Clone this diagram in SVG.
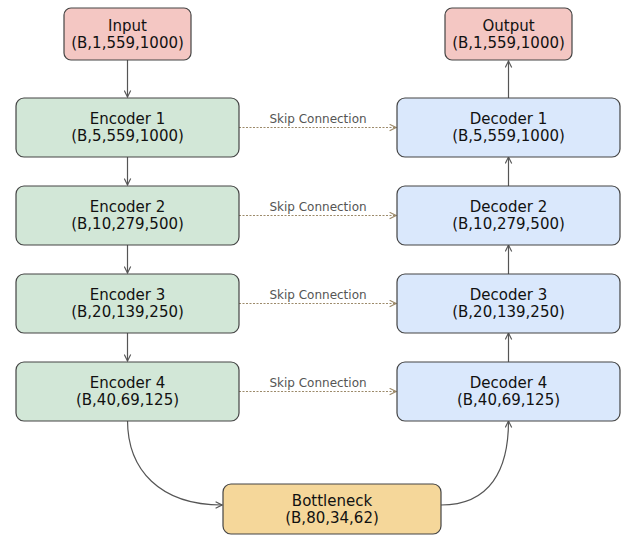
<svg xmlns="http://www.w3.org/2000/svg" width="627" height="535" viewBox="0 0 627 535">
  <defs>
    <marker id="arrow" viewBox="0 0 10 10" refX="9" refY="5" markerWidth="8" markerHeight="8" markerUnits="userSpaceOnUse" orient="auto">
      <path d="M1,1 L9,5 L1,9" fill="none" stroke="#555" stroke-width="1.4"/>
    </marker>
    <marker id="arrow-skip" viewBox="0 0 10 10" refX="9" refY="5" markerWidth="8" markerHeight="8" markerUnits="userSpaceOnUse" orient="auto">
      <path d="M1,1 L9,5 L1,9" fill="none" stroke="#9c8a6a" stroke-width="1.4"/>
    </marker>
    <style>
      .box { stroke: #444; stroke-width: 1.2; }
      .io { fill: #f4c7c3; }
      .enc { fill: #d2e7d7; }
      .dec { fill: #dae8fc; }
      .neck { fill: #f5d79a; }
      .label { font-family: "DejaVu Sans", sans-serif; font-size: 15px; fill: #111; text-anchor: middle; }
      .skip-label { font-family: "DejaVu Sans", sans-serif; font-size: 12px; fill: #555; text-anchor: middle; }
      .flow { fill: none; stroke: #555; stroke-width: 1.2; marker-end: url(#arrow); }
      .skip { fill: none; stroke: #9c8a6a; stroke-width: 1.2; stroke-dasharray: 2 1.5; marker-end: url(#arrow-skip); }
    </style>
  </defs>

  <!-- connectors -->
  <g id="connectors">
    <path class="flow" d="M127.5,60 L127.5,97"/>
    <path class="flow" d="M127.5,157 L127.5,185"/>
    <path class="flow" d="M127.5,245 L127.5,273"/>
    <path class="flow" d="M127.5,333 L127.5,361"/>
    <path class="flow" d="M127.5,420 C127.5,470 160,505 222,505"/>
    <path class="flow" d="M441,505 C490,505 508.5,470 508.5,421"/>
    <path class="flow" d="M508.5,362 L508.5,333"/>
    <path class="flow" d="M508.5,274 L508.5,245"/>
    <path class="flow" d="M508.5,186 L508.5,157"/>
    <path class="flow" d="M508.5,98 L508.5,61"/>

    <path class="skip" d="M239,127.5 L396,127.5"/>
    <path class="skip" d="M239,215.5 L396,215.5"/>
    <path class="skip" d="M239,303.5 L396,303.5"/>
    <path class="skip" d="M239,391.5 L396,391.5"/>
    <text class="skip-label" x="318" y="123">Skip Connection</text>
    <text class="skip-label" x="318" y="211">Skip Connection</text>
    <text class="skip-label" x="318" y="299">Skip Connection</text>
    <text class="skip-label" x="318" y="387">Skip Connection</text>
  </g>

  <g id="input">
    <rect class="box io" x="64" y="8" width="127" height="52" rx="7"/>
    <text class="label" x="127.5" y="31">Input</text>
    <text class="label" x="127.5" y="48">(B,1,559,1000)</text>
  </g>

  <g id="encoder1">
    <rect class="box enc" x="16" y="98" width="223" height="59" rx="8"/>
    <text class="label" x="127.5" y="124">Encoder 1</text>
    <text class="label" x="127.5" y="141">(B,5,559,1000)</text>
  </g>
  <g id="encoder2">
    <rect class="box enc" x="16" y="186" width="223" height="59" rx="8"/>
    <text class="label" x="127.5" y="212">Encoder 2</text>
    <text class="label" x="127.5" y="229">(B,10,279,500)</text>
  </g>
  <g id="encoder3">
    <rect class="box enc" x="16" y="274" width="223" height="59" rx="8"/>
    <text class="label" x="127.5" y="300">Encoder 3</text>
    <text class="label" x="127.5" y="317">(B,20,139,250)</text>
  </g>
  <g id="encoder4">
    <rect class="box enc" x="16" y="362" width="223" height="59" rx="8"/>
    <text class="label" x="127.5" y="388">Encoder 4</text>
    <text class="label" x="127.5" y="405">(B,40,69,125)</text>
  </g>

  <g id="bottleneck">
    <rect class="box neck" x="223" y="484" width="218" height="50" rx="8"/>
    <text class="label" x="332" y="506">Bottleneck</text>
    <text class="label" x="332" y="523">(B,80,34,62)</text>
  </g>

  <g id="decoder4">
    <rect class="box dec" x="397" y="362" width="223" height="59" rx="8"/>
    <text class="label" x="508.5" y="388">Decoder 4</text>
    <text class="label" x="508.5" y="405">(B,40,69,125)</text>
  </g>
  <g id="decoder3">
    <rect class="box dec" x="397" y="274" width="223" height="59" rx="8"/>
    <text class="label" x="508.5" y="300">Decoder 3</text>
    <text class="label" x="508.5" y="317">(B,20,139,250)</text>
  </g>
  <g id="decoder2">
    <rect class="box dec" x="397" y="186" width="223" height="59" rx="8"/>
    <text class="label" x="508.5" y="212">Decoder 2</text>
    <text class="label" x="508.5" y="229">(B,10,279,500)</text>
  </g>
  <g id="decoder1">
    <rect class="box dec" x="397" y="98" width="223" height="59" rx="8"/>
    <text class="label" x="508.5" y="124">Decoder 1</text>
    <text class="label" x="508.5" y="141">(B,5,559,1000)</text>
  </g>

  <g id="output">
    <rect class="box io" x="445" y="8" width="127" height="52" rx="7"/>
    <text class="label" x="508.5" y="31">Output</text>
    <text class="label" x="508.5" y="48">(B,1,559,1000)</text>
  </g>
</svg>
